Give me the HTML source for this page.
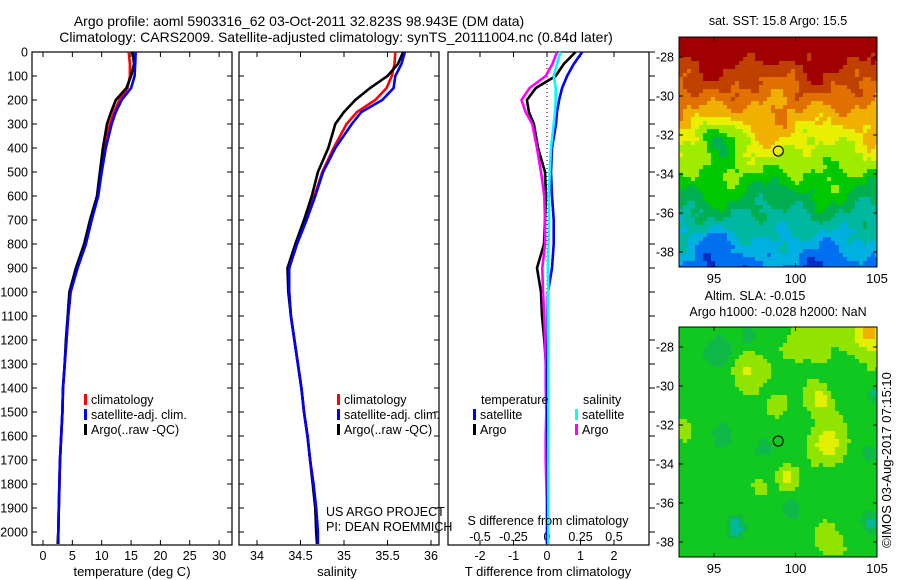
<!DOCTYPE html>
<html><head><meta charset="utf-8"><title>Argo profile</title>
<style>
html,body{margin:0;padding:0;background:#fff;}
svg{display:block;font-family:"Liberation Sans",sans-serif;}
text{fill:#000;}
</style></head>
<body>
<svg id="fig" width="900" height="580" viewBox="0 0 900 580" xmlns="http://www.w3.org/2000/svg">
<text x="299" y="26" font-size="14" text-anchor="middle">Argo profile: aoml 5903316_62 03-Oct-2011 32.823S 98.943E (DM data)</text>
<text x="336" y="42" font-size="14" text-anchor="middle">Climatology: CARS2009. Satellite-adjusted climatology: synTS_20111004.nc (0.84d later)</text>
<g id="p1"></g>
<g id="p2"></g>
<g id="p3"></g>
<g id="m1"></g>
<g id="m2"></g>
<text x="891" y="460" font-size="13" text-anchor="middle" transform="rotate(-90 891 460)">©IMOS 03-Aug-2017 07:15:10</text>
</svg>
<script>
// ---- data ----
const depths = [0,50,100,150,200,250,300,400,500,600,700,800,900,1000,1100,1200,1300,1400,1500,1600,1700,1800,1900,2000,2050];
const tempArgo = [15.3,15.5,15.0,14.2,12.4,11.6,10.9,10.2,9.7,9.2,8.0,7.0,5.6,4.5,4.2,3.9,3.7,3.4,3.3,3.1,2.9,2.8,2.7,2.6,2.5];
const tempClim = [14.6,14.8,14.8,14.4,13.0,12.1,11.4,10.5,9.9,9.3,8.1,7.1,5.8,4.7,4.3,4.0,3.7,3.4,3.3,3.1,2.9,2.8,2.7,2.6,2.5];
const tempSat  = [15.8,15.7,15.6,15.0,13.4,12.4,11.7,10.7,10.0,9.4,8.3,7.3,5.9,4.7,4.3,4.0,3.7,3.4,3.3,3.1,2.9,2.8,2.7,2.6,2.6];
const salArgo = [35.68,35.62,35.5,35.3,35.13,35.0,34.9,34.82,34.7,34.63,34.54,34.44,34.35,34.36,34.39,34.43,34.47,34.51,34.54,34.58,34.61,34.64,34.67,34.68,34.69];
const salClim = [35.59,35.58,35.55,35.49,35.36,35.15,35.03,34.88,34.75,34.66,34.56,34.46,34.37,34.37,34.39,34.43,34.47,34.51,34.54,34.58,34.61,34.65,34.67,34.69,34.69];
const salSat  = [35.7,35.66,35.59,35.57,35.44,35.2,35.09,34.9,34.76,34.67,34.57,34.46,34.37,34.37,34.39,34.43,34.47,34.51,34.54,34.58,34.61,34.65,34.68,34.7,34.7];
const dTsat  = [1.05,0.8,0.6,0.45,0.36,0.3,0.27,0.15,0.12,0.15,0.2,0.2,0.15,0.03,0.02,0.02,0.01,0.01,0.01,0.01,0.02,0.02,0.01,0.01,0.01];
const dTargo = [0.85,0.5,0.26,-0.33,-0.6,-0.54,-0.39,-0.27,-0.06,-0.03,-0.06,-0.09,-0.3,-0.18,-0.15,-0.08,-0.03,-0.01,0.0,0.01,0.01,0.0,0.0,0.0,0.0];
const dSsat  = [0.1,0.075,0.05,0.065,0.065,0.06,0.05,0.03,0.02,0.015,0.015,0.012,0.007,0.01,0.01,0.01,0.01,0.01,0.01,0.01,0.01,0.01,0.01,0.01,0.01];
const dSargo = [0.075,0.04,-0.01,-0.13,-0.19,-0.16,-0.11,-0.075,-0.045,-0.02,-0.015,-0.015,-0.035,-0.03,-0.02,-0.015,-0.01,-0.01,-0.005,-0.01,-0.01,-0.005,0.0,0.0,0.0];
const depthTicks = [0,100,200,300,400,500,600,700,800,900,1000,1100,1200,1300,1400,1500,1600,1700,1800,1900,2000];
const tempTicks = [0,5,10,15,20,25,30];
const salTicks = [34,34.5,35,35.5,36];
const salTickLabels = ["34","34.5","35","35.5","36"];
const dTTicks = [-2,-1,0,1,2];
const dSTicks = [-0.5,-0.25,0,0.25,0.5];
const dSTickLabels = ["-0.5","-0.25","0","0.25","0.5"];
const lonTicks = [95,100,105];
const latTicks = [-28,-30,-32,-34,-36,-38];
const argoLon = 98.943, argoLat = -32.823;

const NS = "http://www.w3.org/2000/svg";
function mk(tag, attrs, parent, txt){
  const e = document.createElementNS(NS, tag);
  for (const k in attrs) e.setAttribute(k, attrs[k]);
  if (txt !== undefined) e.textContent = txt;
  parent.appendChild(e);
  return e;
}
const yD = d => 52 + 0.24*d;
const TOP = 52, BOT = 545;

function frame(g, x0, x1, name){
  const r = mk('rect',{x:x0,y:TOP,width:x1-x0,height:BOT-TOP,fill:'none',stroke:'#000','stroke-width':1.2},g);
  
  
}
function line(g, xs, name, color){
  const pts = depths.map((d,i)=>xs[i].toFixed(1)+','+yD(d).toFixed(1)).join(' ');
  const p = mk('polyline',{points:pts,fill:'none',stroke:color,'stroke-width':2.6,'stroke-linejoin':'miter'},g);
  
  
}
function xTicks(g, vals, labels, xf, ylab, name){
  vals.forEach((v,i)=>{
    const x = xf(v);
    mk('line',{x1:x,x2:x,y1:BOT,y2:BOT-5,stroke:'#000'},g);
    mk('line',{x1:x,x2:x,y1:TOP,y2:TOP+5,stroke:'#000'},g);
    const t = mk('text',{x:x,y:ylab,'font-size':12.5,'text-anchor':'middle'},g,labels[i]);
    
    
  });
}
function legendEntry(g,x,y,color,label){
  const r = mk('rect',{x:x,y:y-10,width:3,height:11,fill:color},g);
  
  
  const t = mk('text',{x:x+7,y:y,'font-size':12.5},g,label);
  
  
}

// ---- panel 1 temperature ----
const p1 = document.getElementById('p1');
const xT = t => 43 + 5.87*t;
frame(p1, 32, 232, 'temperature');
depthTicks.forEach(d=>{
  mk('line',{x1:32,x2:37,y1:yD(d),y2:yD(d),stroke:'#000'},p1);
  mk('line',{x1:232,x2:227,y1:yD(d),y2:yD(d),stroke:'#000'},p1);
  const t = mk('text',{x:28,y:yD(d)+4.5,'font-size':12.5,'text-anchor':'end'},p1,String(d));
  
  
});
xTicks(p1,tempTicks,tempTicks.map(String),xT,560,'temperature');
line(p1, tempClim.map(xT),'temp-climatology-line','#ff0000');
line(p1, tempArgo.map(xT),'temp-argo-line','#000000');
line(p1, tempSat.map(xT),'temp-satellite-line','#0000ff');
mk('text',{x:132,y:576,'font-size':13,'text-anchor':'middle',},p1,'temperature (deg C)');
legendEntry(p1,84,404,'#ff0000','climatology');
legendEntry(p1,84,419,'#0000ff','satellite-adj. clim.');
legendEntry(p1,84,434,'#000000','Argo(..raw -QC)');

// ---- panel 2 salinity ----
const p2 = document.getElementById('p2');
const xS = s => 257 + 87*(s-34);
frame(p2, 239, 439, 'salinity');
depthTicks.forEach(d=>{
  mk('line',{x1:239,x2:244,y1:yD(d),y2:yD(d),stroke:'#000'},p2);
  mk('line',{x1:439,x2:434,y1:yD(d),y2:yD(d),stroke:'#000'},p2);
});
xTicks(p2,salTicks,salTickLabels,xS,560,'salinity');
line(p2, salClim.map(xS),'sal-climatology-line','#ff0000');
line(p2, salArgo.map(xS),'sal-argo-line','#000000');
line(p2, salSat.map(xS),'sal-satellite-line','#0000ff');
mk('text',{x:337,y:576,'font-size':13,'text-anchor':'middle',},p2,'salinity');
legendEntry(p2,337,404,'#ff0000','climatology');
legendEntry(p2,337,419,'#0000ff','satellite-adj. clim.');
legendEntry(p2,337,434,'#000000','Argo(..raw -QC)');
mk('text',{x:326,y:516,'font-size':12.5,},p2,'US ARGO PROJECT');
mk('text',{x:326,y:531,'font-size':12.5,},p2,'PI: DEAN ROEMMICH');

// ---- panel 3 differences ----
const p3 = document.getElementById('p3');
const xDT = v => 547 + 33.5*v;
const xDS = v => 547 + 134*v;
frame(p3, 448, 649, 'difference');
depthTicks.forEach(d=>{
  mk('line',{x1:649,x2:655,y1:yD(d),y2:yD(d),stroke:'#000'},p3);
});
dTTicks.forEach(v=>{
  mk('line',{x1:xDT(v),x2:xDT(v),y1:BOT,y2:BOT-5,stroke:'#000'},p3);
  mk('line',{x1:xDT(v),x2:xDT(v),y1:TOP,y2:TOP+5,stroke:'#000'},p3);
  const t = mk('text',{x:xDT(v),y:560,'font-size':12.5,'text-anchor':'middle'},p3,String(v));
  
  
});
dSTicks.forEach((v,i)=>{
  const t = mk('text',{x:xDS(v),y:541,'font-size':12.5,'text-anchor':'middle'},p3,dSTickLabels[i]);
  
  
});
mk('line',{x1:xDT(0),x2:xDT(0),y1:TOP,y2:BOT,stroke:'#000','stroke-dasharray':'1,3'},p3);
line(p3, dTargo.map(xDT),'t-diff-argo-line','#000000');
line(p3, dSargo.map(xDS),'s-diff-argo-line','#ff00ff');
line(p3, dTsat.map(xDT),'t-diff-satellite-line','#0000ff');
line(p3, dSsat.map(xDS),'s-diff-satellite-line','#00ffff');
mk('text',{x:548,y:525,'font-size':12.5,'text-anchor':'middle',},p3,'S difference from climatology');
mk('text',{x:548,y:576,'font-size':13,'text-anchor':'middle',},p3,'T difference from climatology');
mk('text',{x:481,y:404,'font-size':12.5,},p3,'temperature');
mk('text',{x:583,y:404,'font-size':12.5,},p3,'salinity');
legendEntry(p3,473,419,'#0000ff','satellite');
legendEntry(p3,473,434,'#000000','Argo');
legendEntry(p3,575,419,'#00ffff','satellite');
legendEntry(p3,575,434,'#ff00ff','Argo');

// ---- maps ----
const lonX = lon => 714 + 16.3*(lon-95);
function noise(x,y,s){
  return 0.55*Math.sin(x*0.061+s)*Math.cos(y*0.053+s*1.3)
       +0.35*Math.sin(x*0.113+y*0.087+s*2.1)
       +0.25*Math.cos(x*0.19-y*0.15+s)
       +0.12*Math.sin(x*0.41+y*0.37+s*3);
}
function mapPanel(g, top, bottom, lat28, colorFn, name){
  const left=679, right=877, cell=4;
  const latY = lat => lat28 + (-(lat)-28)*19.5;
  for(let y=top;y<bottom;y+=cell){
    for(let x=left;x<right;x+=cell){
      const lon = 95+(x+2-714)/16.3, lat = -28-(y+2-lat28)/19.5;
      mk('rect',{x:x,y:y,width:Math.min(cell,right-x),height:Math.min(cell,bottom-y),fill:colorFn(lon,lat,x,y)},g);
    }
  }
  const fr = mk('rect',{x:left,y:top,width:right-left,height:bottom-top,fill:'none',stroke:'#000','stroke-width':1},g);
  
  
  latTicks.forEach(l=>{
    const y = latY(l);
    mk('line',{x1:left,x2:left+4,y1:y,y2:y,stroke:'#000'},g);
    mk('line',{x1:right,x2:right-4,y1:y,y2:y,stroke:'#000'},g);
    const t = mk('text',{x:674,y:y+4.5,'font-size':12.5,'text-anchor':'end'},g,String(l));
    
    
  });
  lonTicks.forEach(l=>{
    const x = lonX(l);
    mk('line',{x1:x,x2:x,y1:top,y2:top+4,stroke:'#000'},g);
    mk('line',{x1:x,x2:x,y1:bottom,y2:bottom-4,stroke:'#000'},g);
    const t = mk('text',{x:x,y:bottom+16,'font-size':13,'text-anchor':'middle'},g,String(l));
    
    
  });
  const c = mk('circle',{cx:lonX(argoLon),cy:latY(argoLat),r:5,fill:'none',stroke:'#000','stroke-width':1.2},g);
  
  
}
const sstPal = ['#0030c8','#0070f0','#00b0e0','#00b8a0','#00b050','#00c800','#a0ec00','#e8f000','#f0b000','#e07000','#c04000','#a00000'];
function sstColor(lon,lat,x,y){
  let lv = 11.8 - (-(lat)-27)*0.92;
  lv -= 2.4*Math.exp(-(((lon-95.2)/1.1)**2+((lat+32.2)/0.9)**2));
  lv -= 1.0*Math.exp(-(((lon-94.7)/0.8)**2+((lat+37.3)/0.6)**2));
  lv += 1.0*noise(x,y,1.7);
  lv = Math.max(0,Math.min(11,Math.round(lv)));
  return sstPal[lv];
}
const blobs = [[97,-29.2,1.0,1.8],[101.5,-30.7,0.8,1.9],[102,-33,1.1,1.9],[99.5,-34.6,0.6,1.7],[93.2,-32.3,0.6,1.6],[104.6,-27.3,1.2,2.9],[98.8,-31,0.7,1.1],[102,-37.8,0.8,1.3],[97.8,-35.2,0.5,1.2],[101,-27.5,1.5,1.3],
 [95.5,-32.5,0.6,-1.8],[96.3,-37.3,0.5,-2.6],[104.6,-37,0.5,-2],[95.3,-28.3,0.8,-1.5],[104.8,-30.4,0.4,-1.6],[98,-33.2,0.5,-1.3],[104.5,-33.5,0.4,-1.4],[99.7,-36.3,0.6,-1.0],[97,-27.4,0.5,-1.2]];
const slaPal = {'-3':'#00c8d8','-2':'#00b8a0','-1':'#10b848','0':'#10c820','1':'#90e400','2':'#e0f000','3':'#f0b000','4':'#e07000'};
function slaColor(lon,lat,x,y){
  let v = 0.35*noise(x,y,4.2);
  blobs.forEach(b=>{ const d2=((lon-b[0])**2+(lat-b[1])**2)/(b[2]*b[2]); v += b[3]*Math.exp(-d2); });
  let lv = Math.max(-3,Math.min(4,Math.round(v)));
  return slaPal[String(lv)];
}
mapPanel(document.getElementById('m1'), 37, 267, 57, sstColor, 'sst-map');
mapPanel(document.getElementById('m2'), 327, 557, 347, slaColor, 'sla-map');
const m1 = document.getElementById('m1'), m2 = document.getElementById('m2');
mk('text',{x:778,y:25,'font-size':12.5,'text-anchor':'middle',},m1,'sat. SST: 15.8 Argo: 15.5');
mk('text',{x:755,y:300,'font-size':12.5,'text-anchor':'middle',},m2,'Altim. SLA: -0.015');
mk('text',{x:778,y:316,'font-size':12.5,'text-anchor':'middle',},m2,'Argo h1000: -0.028 h2000: NaN');
</script>
</body></html>
